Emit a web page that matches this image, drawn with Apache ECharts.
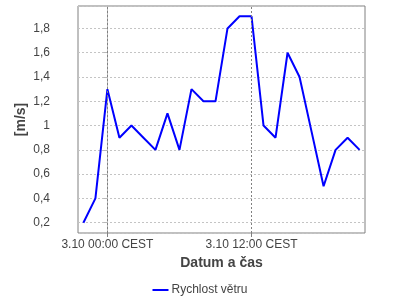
<!DOCTYPE html>
<html>
<head>
<meta charset="utf-8">
<script src="https://cdn.jsdelivr.net/npm/echarts@6/dist/echarts.min.js"></script>
<style>html,body{margin:0;padding:0;background:#fff}#c{width:400px;height:300px}</style>
</head>
<body>
<div id="c"></div>
<script>
// hours relative to 3.10 00:00 CEST
const hours = [-2,-1,0,1,2,3,4,5,6,7,8,9,10,11,12,13,14,15,16,17,18,19,20,21];
const speed = [0.2,0.4,1.3,0.9,1.0,0.9,0.8,1.1,0.8,1.3,1.2,1.2,1.8,1.9,1.9,1.0,0.9,1.6,1.4,0.95,0.5,0.8,0.9,0.8];
const tickHours = [0, 12];
const tickLabels = ["3.10 00:00 CEST", "3.10 12:00 CEST"];
const seriesName = "Rychlost větru";
const xTitle = "Datum a čas";
const yTitle = "[m/s]";

const chart = echarts.init(document.getElementById('c'), null, {renderer: 'canvas'});
const font = 'Liberation Sans, Arial, sans-serif';
chart.setOption({
  animation: false,
  textStyle: {fontFamily: font},
  grid: {left: 78, top: 6, right: 35, bottom: 67, show: true, borderColor: '#808080', borderWidth: 1, backgroundColor: '#fff'},
  legend: {
    top: 279, left: 'center', icon: 'rect', itemWidth: 16, itemHeight: 2, itemGap: 10,
    textStyle: {fontFamily: font, fontSize: 12, color: '#444', padding: [0,0,0,-2]},
    data: [seriesName]
  },
  xAxis: {
    type: 'value', min: -2.45, max: 21.45,
    name: xTitle, nameLocation: 'middle', nameGap: 23, nameMoveOverlap: false,
    nameTextStyle: {fontFamily: font, fontSize: 14, fontWeight: 'bold', color: '#444'},
    axisLine: {show: false},
    axisTick: {show: true, customValues: tickHours, length: 4, lineStyle: {color: '#808080'}},
    axisLabel: {customValues: tickHours, margin: 6, fontFamily: font, fontSize: 12, color: '#444',
      formatter: v => tickLabels[tickHours.indexOf(Math.round(v))] || ''},
    splitLine: {show: false}
  },
  yAxis: {
    type: 'value', min: 0.115, max: 1.985, splitNumber: 9, offset: 21,
    name: yTitle, nameLocation: 'middle', nameGap: 29, nameRotate: 90, nameMoveOverlap: false,
    nameTextStyle: {fontFamily: font, fontSize: 14, fontWeight: 'bold', color: '#444'},
    axisLine: {show: true, lineStyle: {color: '#b8b8b8'}},
    axisTick: {show: true, length: 4, lineStyle: {color: '#b8b8b8'}},
    axisLabel: {showMinLabel: false, showMaxLabel: false, margin: 7, fontFamily: font, fontSize: 12, color: '#444',
      formatter: v => String(Math.round(v * 10) / 10).replace('.', ',')},
    splitLine: {show: true, lineStyle: {color: '#c4c4c4', type: [2, 2], width: 1}}
  },
  series: [{
    name: seriesName, type: 'line', symbol: 'none',
    lineStyle: {color: '#0000ff', width: 2}, itemStyle: {color: '#0000ff'},
    data: hours.map((h, i) => [h, speed[i]]),
    markLine: {
      silent: true, symbol: 'none', label: {show: false},
      lineStyle: {color: '#808080', type: [2, 2], width: 1},
      data: tickHours.map(h => ({xAxis: h}))
    },
    z: 3
  }]
});
</script>
</body>
</html>
